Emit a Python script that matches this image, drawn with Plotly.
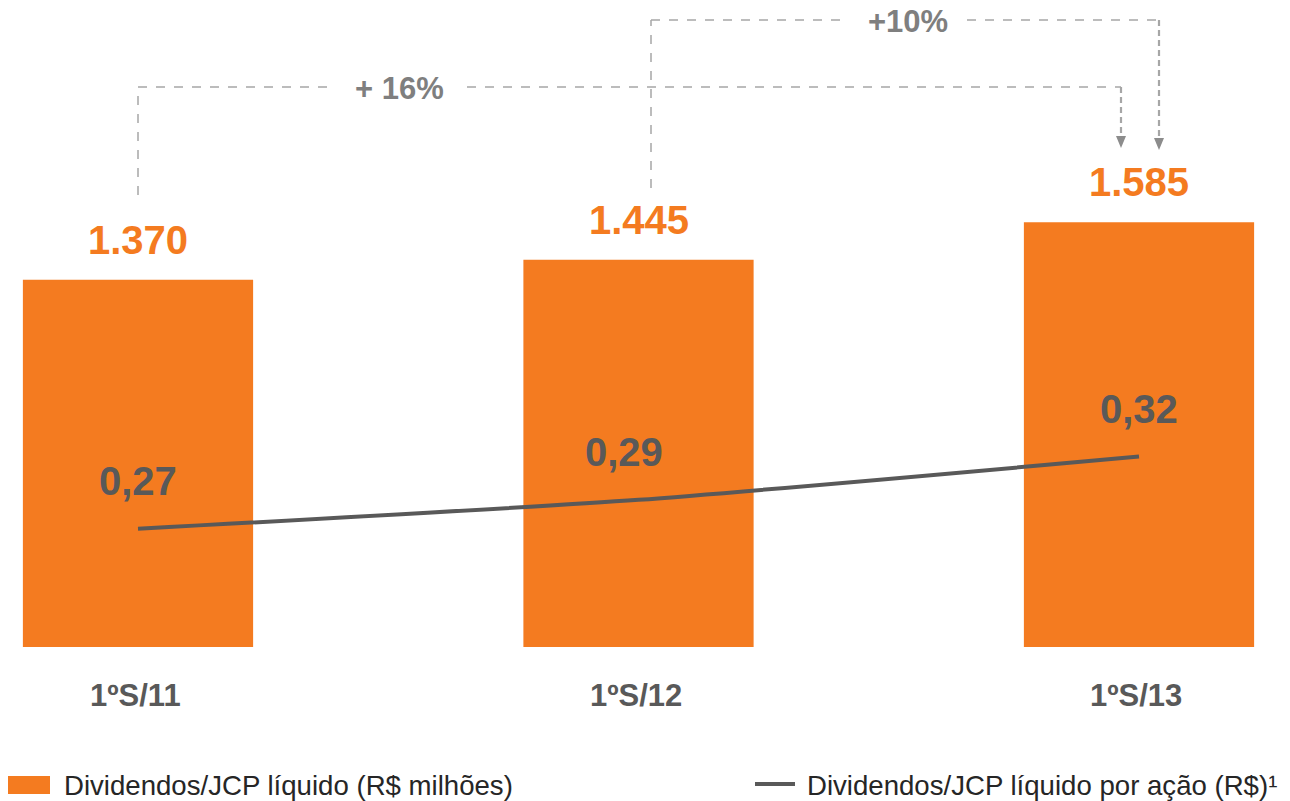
import plotly.graph_objects as go

# ---- data ----
categories = ["1ºS/11", "1ºS/12", "1ºS/13"]
dividendos = [1370, 1445, 1585]          # R$ milhões
dividendos_labels = ["1.370", "1.445", "1.585"]
por_acao = [0.27, 0.29, 0.32]            # R$ por ação
por_acao_labels = ["0,27", "0,29", "0,32"]
growth_labels = ["+ 16%", "+10%"]
legend_names = ["Dividendos/JCP líquido (R$ milhões)", "Dividendos/JCP líquido por ação (R$)¹"]

ORANGE = "#F47B20"
DARK = "#595959"
GRAY = "#A6A6A6"
FONT = "Liberation Sans, Arial, sans-serif"

W, H = 1290, 801
PLOT_H = 647  # plot area height in px (top margin 0)
x_idx = list(range(len(categories)))

def py(p):
    """pixel row -> paper y"""
    return (PLOT_H - p) / PLOT_H

def px(p):
    """pixel column -> x data (center spacing 500.5 px, first center at 138)"""
    return (p - 138) / 500.5

fig = go.Figure()
fig.add_trace(go.Bar(
    x=x_idx, y=dividendos, name=legend_names[0],
    marker=dict(color=ORANGE, line=dict(width=0)),
    width=0.46, yaxis="y", showlegend=False,
))
fig.add_trace(go.Scatter(
    x=x_idx, y=por_acao, name=legend_names[1], mode="lines",
    line=dict(color=DARK, width=4, shape="spline", smoothing=0.6),
    yaxis="y2", showlegend=False,
))

ann = []
# value labels on bars
for i, (v, t) in enumerate(zip(dividendos, dividendos_labels)):
    ann.append(dict(x=i, y=v, xref="x", yref="y", text=f"<b>{t}</b>", showarrow=False,
                    yanchor="middle", yshift=40, font=dict(family=FONT, size=40, color=ORANGE)))
# per-share labels
shifts = [0, -15, 0]
for i, (v, t) in enumerate(zip(por_acao, por_acao_labels)):
    ann.append(dict(x=i, y=v, xref="x", yref="y2", text=f"<b>{t}</b>", showarrow=False,
                    yanchor="middle", yshift=48, xshift=shifts[i],
                    font=dict(family=FONT, size=40, color=DARK)))
# category labels
for i, c in enumerate(categories):
    ann.append(dict(x=i, y=py(695), xref="x", yref="paper", text=f"<b>{c}</b>", showarrow=False,
                    yanchor="middle", xshift=-3, font=dict(family=FONT, size=31, color=DARK)))
# growth labels
ann.append(dict(x=px(399), y=py(88), xref="x", yref="paper", text=f"<b>{growth_labels[0]}</b>",
                showarrow=False, yanchor="middle", font=dict(family=FONT, size=31, color="#7F7F7F")))
ann.append(dict(x=px(908), y=py(22), xref="x", yref="paper", text=f"<b>{growth_labels[1]}</b>",
                showarrow=False, yanchor="middle", font=dict(family=FONT, size=31, color="#7F7F7F")))
# legend texts
ann.append(dict(x=62 / W, y=py(785), xref="paper", yref="paper", text=legend_names[0], showarrow=False,
                xanchor="left", yanchor="middle", font=dict(family=FONT, size=27.6, color="#262626")))
ann.append(dict(x=805 / W, y=py(785), xref="paper", yref="paper", text=legend_names[1], showarrow=False,
                xanchor="left", yanchor="middle", font=dict(family=FONT, size=27.6, color="#262626")))

shapes = []
def dline(x0, y0, x1, y1, w=1.5, dash="dash"):
    shapes.append(dict(type="line", xref="x", yref="paper", x0=x0, y0=y0, x1=x1, y1=y1,
                       line=dict(color=GRAY, width=w, dash=dash)))

def arrowhead(xc, tip_py):
    dx = 5 / 500.5
    path = (f"M {xc - dx} {py(tip_py - 12)} L {xc + dx} {py(tip_py - 12)} "
            f"L {xc} {py(tip_py)} Z")
    shapes.append(dict(type="path", xref="x", yref="paper", path=path,
                       fillcolor="#8C8C8C", line=dict(width=0)))

# +16% bracket (1ºS/11 -> 1ºS/13)
dline(px(138), py(195), px(138), py(87))
dline(px(138), py(87), px(336), py(87))
dline(px(467), py(87), px(1121), py(87))
dline(px(1121), py(87), px(1121), py(137), w=2.2, dash="6px,4px")
arrowhead(px(1121), 148)
# +10% bracket (1ºS/12 -> 1ºS/13)
dline(px(651), py(188), px(651), py(20))
dline(px(651), py(20), px(848), py(20))
dline(px(967), py(20), px(1159), py(20))
dline(px(1159), py(20), px(1159), py(139), w=2.2, dash="6px,4px")
arrowhead(px(1159), 150)

# legend symbols
shapes.append(dict(type="rect", xref="paper", yref="paper", x0=8 / W, x1=50 / W,
                   y0=py(794), y1=py(776), fillcolor=ORANGE, line=dict(width=0)))
shapes.append(dict(type="line", xref="paper", yref="paper", x0=755 / W, x1=795 / W,
                   y0=py(784), y1=py(784), line=dict(color=DARK, width=4)))

fig.update_layout(
    width=W, height=H,
    margin=dict(l=0, r=0, t=0, b=H - PLOT_H, pad=0),
    paper_bgcolor="white", plot_bgcolor="white",
    xaxis=dict(range=[px(0), px(W)], showgrid=False, zeroline=False, showticklabels=False,
               showline=False, fixedrange=True),
    yaxis=dict(range=[0, PLOT_H / 0.268], showgrid=False, zeroline=False, showticklabels=False,
               showline=False),
    yaxis2=dict(range=[(918.6 - PLOT_H) / 1444, 918.6 / 1444], overlaying="y", side="right",
                showgrid=False, zeroline=False, showticklabels=False, showline=False),
    annotations=ann, shapes=shapes, showlegend=False,
    font=dict(family=FONT),
)

fig.write_html("out.html")
